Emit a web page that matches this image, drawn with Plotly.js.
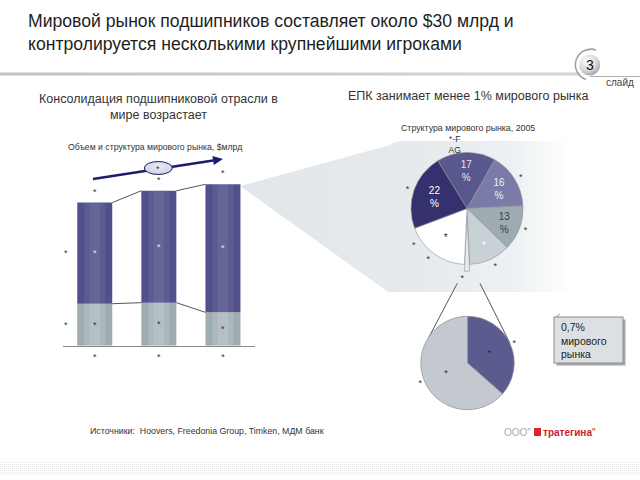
<!DOCTYPE html>
<html><head><meta charset="utf-8">
<script src="https://cdn.plot.ly/plotly-3.0.1.min.js"></script>
<style>html,body{margin:0;padding:0;background:#fff}#chart{width:640px;height:480px}</style>
</head><body><div id="chart"></div>
<script>
// ---------------- data ----------------
const barCategories = [0, 1, 2];
const barCategoryLabels = ['*', '*', '*'];
const otherShare = [7.8, 8.0, 6.2];       // lower (grey) segment, $ bn
const leaderShare = [18.8, 20.8, 23.8];   // upper (dark) segment, $ bn
const barTotalLabels = ['*', '*', '*'];
const lowerLabels = ['*', '*', '*'];
const upperLabels = ['*', '*', '*'];
const seriesLabels = ['*', '*'];          // lower, upper
const growthLabel = '*';

const pieLabels = ['FAG', 'Компания 2', 'Компания 3', 'Компания 4', 'ЕПК', 'Прочие', 'Компания 1'];
const pieValues = [17, 16, 13, 12, 1.5, 18.5, 22];
const pieInsideText = ['17<br>%', '16<br>%', '13<br>%', '*', '', '*', '22<br>%'];
const pieOutsideText = ['', '*', '*', '*', '*', '*', '*'];
const pieTopText = ['*-F<br>AG', '', '', '', '', '', ''];

const epkLabels = ['Сегмент 1', 'Сегмент 2'];
const epkValues = [36.5, 63.5];
const epkInsideText = ['*', '*'];
const epkOutsideText = ['*', '*'];

// ---------------- helpers ----------------
const W = 640, H = 480;
const px = x => x / W;
const py = y => 1 - y / H;
const barWidth = 0.546;
const totals = otherShare.map((v, i) => v + leaderShare[i]);
const FONT = 'Liberation Sans, Arial, sans-serif';

// ---------------- decorative background (svg image) ----------------
const svg = `<svg xmlns='http://www.w3.org/2000/svg' width='640' height='480' viewBox='0 0 640 480'>
<defs>
<linearGradient id='g1' x1='0' y1='0' x2='1' y2='0'>
<stop offset='0' stop-color='#e1e6e9'/><stop offset='0.55' stop-color='#e6eaed'/><stop offset='0.85' stop-color='#eef1f3'/><stop offset='1' stop-color='#fcfdfd'/>
</linearGradient>
<linearGradient id='rule' x1='0' y1='0' x2='1' y2='0'><stop offset='0' stop-color='#c2c2c2'/><stop offset='1' stop-color='#d6d6d6'/></linearGradient>
<radialGradient id='ball' cx='0.38' cy='0.32' r='0.75'><stop offset='0' stop-color='#ffffff'/><stop offset='0.6' stop-color='#d8d8d8'/><stop offset='1' stop-color='#9c9c9c'/></radialGradient>
<radialGradient id='ell' cx='0.5' cy='0.4' r='0.7'><stop offset='0' stop-color='#eceef5'/><stop offset='1' stop-color='#c5c9da'/></radialGradient>
<pattern id='dots' width='2' height='2' patternUnits='userSpaceOnUse'><rect width='1' height='1' fill='#e4e4e4'/></pattern>
</defs>
<rect x='0' y='462' width='640' height='14' fill='url(#dots)' opacity='0.8'/>
<path d='M240,186 L390,145 Q395,141 404,141 L565,141 L565,292 L388,292 Z' fill='url(#g1)'/>
<rect x='0' y='72.5' width='580' height='3' fill='url(#rule)'/>
<line x1='590' y1='76.5' x2='640' y2='76.5' stroke='#b0b0b0' stroke-width='1'/>
<path d='M 596 50 A 15.5 15.5 0 1 0 586 79.5' fill='none' stroke='#a0a0a0' stroke-width='1.5'/>
<circle cx='589.7' cy='65' r='10.5' fill='url(#ball)'/>
<line x1='457.3' y1='283.3' x2='428.3' y2='338.3' stroke='#555' stroke-width='1'/>
<line x1='480' y1='283.3' x2='510' y2='343.3' stroke='#555' stroke-width='1'/>
<line x1='93' y1='179' x2='213.1' y2='160.5' stroke='#1c1c6e' stroke-width='2.6'/>
<path d='M223,159 L213.8,164.9 L212.4,156.1 Z' fill='#1c1c6e'/>
<ellipse cx='158.3' cy='168' rx='14' ry='6.5' fill='url(#ell)' stroke='#1c1c6e' stroke-width='1'/>
<rect x='556.5' y='319.5' width='69' height='46' fill='#a8a8a8'/>
<rect x='554' y='317' width='69' height='46' fill='#dde0e3' stroke='#8c8c8c' stroke-width='1'/>
<path d='M560,314 L556,317' stroke='#999' stroke-width='1'/>
<rect x='534' y='428' width='7' height='8' fill='#d8262e'/>
</svg>`;
const svgSrc = 'data:image/svg+xml;charset=utf-8,' + encodeURIComponent(svg);

// ---------------- traces ----------------
const traces = [];
traces.push({type: 'bar', x: barCategories, y: otherShare, width: barWidth,
  marker: {color: '#9dadb2', line: {width: 0}}, hoverinfo: 'skip', showlegend: false});
traces.push({type: 'bar', x: barCategories, y: leaderShare, base: otherShare, width: barWidth,
  marker: {color: '#50508a', line: {width: 0}}, hoverinfo: 'skip', showlegend: false});
// cylinder highlights
traces.push({type: 'bar', x: barCategories, y: otherShare, width: barWidth * 0.6,
  marker: {color: 'rgba(255,255,255,0.14)', line: {width: 0}}, hoverinfo: 'skip', showlegend: false});
traces.push({type: 'bar', x: barCategories, y: otherShare, width: barWidth * 0.3,
  marker: {color: 'rgba(255,255,255,0.12)', line: {width: 0}}, hoverinfo: 'skip', showlegend: false});
traces.push({type: 'bar', x: barCategories, y: leaderShare, base: otherShare, width: barWidth * 0.6,
  marker: {color: 'rgba(255,255,255,0.07)', line: {width: 0}}, hoverinfo: 'skip', showlegend: false});
traces.push({type: 'bar', x: barCategories, y: leaderShare, base: otherShare, width: barWidth * 0.3,
  marker: {color: 'rgba(255,255,255,0.06)', line: {width: 0}}, hoverinfo: 'skip', showlegend: false});

// connectors between bars
const cx = [], cyTop = [], cyLow = [];
for (let i = 0; i < barCategories.length - 1; i++) {
  cx.push(barCategories[i] + barWidth / 2, barCategories[i + 1] - barWidth / 2, null);
  cyTop.push(totals[i], totals[i + 1], null);
  cyLow.push(otherShare[i], otherShare[i + 1], null);
}
traces.push({type: 'scatter', mode: 'lines', x: cx, y: cyTop, line: {color: '#555', width: 1}, hoverinfo: 'skip', showlegend: false});
traces.push({type: 'scatter', mode: 'lines', x: cx, y: cyLow, line: {color: '#555', width: 1}, hoverinfo: 'skip', showlegend: false});

// pie 1
const pie1C = [467, 208.5];
function pieDomain(c, r, pull) {
  const side = 2 * r * (1 + pull);
  return {x: [px(c[0] - side / 2), px(c[0] + side / 2)], y: [py(c[1] + side / 2), py(c[1] - side / 2)]};
}
const pie1Domain = pieDomain(pie1C, 56, 0.12);
const pieColors = ['#58588c', '#7b7ba7', '#9eacb1', '#c8d1d5', '#e8ebec', '#ffffff', '#35316e'];
const piePull = pieValues.map((v, i) => pieLabels[i] === 'ЕПК' ? 0.12 : 0);
const clear = pieValues.map(() => 'rgba(0,0,0,0)');
traces.push({type: 'pie', labels: pieLabels, values: pieValues, sort: false, direction: 'clockwise',
  rotation: -31.5, domain: pie1Domain, pull: piePull,
  marker: {colors: pieColors, line: {color: '#8d939a', width: 0.6}},
  text: pieInsideText, textinfo: 'text', textposition: 'inside', insidetextorientation: 'horizontal',
  insidetextfont: {size: 10, family: FONT, color: ['#e4e4f2', '#eeeef8', '#3c3c4c', '#ffffff', '#333', '#333', '#ffffff']},
  hoverinfo: 'skip', showlegend: false});
traces.push({type: 'pie', labels: pieLabels, values: pieValues, sort: false, direction: 'clockwise',
  rotation: -31.5, domain: pieDomain(pie1C, 58, 0.12), pull: piePull,
  marker: {colors: clear, line: {width: 0}},
  text: pieOutsideText, textinfo: 'text', textposition: 'outside',
  outsidetextfont: {size: 9, family: FONT, color: '#333'},
  hoverinfo: 'skip', showlegend: false});
traces.push({type: 'pie', labels: pieLabels, values: pieValues, sort: false, direction: 'clockwise',
  rotation: -31.5, domain: pieDomain(pie1C, 53.5, 0.12), pull: piePull,
  marker: {colors: clear, line: {width: 0}},
  text: pieTopText, textinfo: 'text', textposition: 'outside',
  outsidetextfont: {size: 8.5, family: FONT, color: '#333'},
  hoverinfo: 'skip', showlegend: false});

// pie 2
const pie2C = [467.5, 363];
const pie2Domain = pieDomain(pie2C, 46.7, 0);
traces.push({type: 'pie', labels: epkLabels, values: epkValues, sort: false, direction: 'clockwise',
  rotation: 0, domain: pie2Domain,
  marker: {colors: ['#5b5b8f', '#c3c9ce'], line: {color: '#8a8f96', width: 0.7}},
  text: epkInsideText, textinfo: 'text', textposition: 'inside',
  insidetextfont: {size: 9, family: FONT, color: '#222'},
  hoverinfo: 'skip', showlegend: false});
traces.push({type: 'pie', labels: epkLabels, values: epkValues, sort: false, direction: 'clockwise',
  rotation: 0, domain: pie2Domain,
  marker: {colors: ['rgba(0,0,0,0)', 'rgba(0,0,0,0)'], line: {width: 0}},
  text: epkOutsideText, textinfo: 'text', textposition: 'outside',
  outsidetextfont: {size: 9, family: FONT, color: '#333'},
  hoverinfo: 'skip', showlegend: false});

// ---------------- annotations ----------------
const ann = [];
function paperText(text, x, y, size, opts) {
  ann.push(Object.assign({xref: 'paper', yref: 'paper', x: px(x), y: py(y), text: text, showarrow: false,
    font: {size: size, family: FONT, color: '#222'}, xanchor: 'center', yanchor: 'middle'}, opts || {}));
}
paperText('Мировой рынок подшипников составляет около $30 млрд и<br>контролируется несколькими крупнейшими игроками',
  26, 32.5, 17.6, {xanchor: 'left', align: 'left', font: {size: 17.6, family: FONT, color: '#1e1e1e'}});
paperText('Консолидация подшипниковой отрасли в<br>мире возрастает', 158.5, 107, 12.5,
  {font: {size: 12.5, family: FONT, color: '#333'}});
paperText('ЕПК занимает менее 1% мирового рынка', 468, 96, 12.5, {font: {size: 12.5, family: FONT, color: '#333'}});
paperText('Объем и структура мирового рынка, $млрд', 155, 146.5, 8.7, {font: {size: 8.7, family: FONT, color: '#333'}});
paperText('Структура мирового рынка, 2005', 468, 127.5, 8.8, {font: {size: 8.8, family: FONT, color: '#333'}});
paperText('Источники:  Hoovers, Freedonia Group, Timken, МДМ банк', 88, 431, 8.8,
  {xanchor: 'left', font: {size: 8.8, family: FONT, color: '#333'}});
paperText('0,7%<br>мирового<br>рынка', 559, 340, 10.5, {xanchor: 'left', align: 'left',
  font: {size: 10.5, family: FONT, color: '#222'}});
paperText('3', 589.7, 65, 14, {font: {size: 14, family: FONT, color: '#111'}});
paperText('слайд', 620, 82, 10, {font: {size: 10, family: FONT, color: '#444'}});
paperText('ООО"', 533, 432, 10, {xanchor: 'right', font: {size: 10, family: FONT, color: '#aaaaaa'}});
paperText('<b>тратегина</b>"', 541, 432, 10, {xanchor: 'left', font: {size: 10, family: FONT, color: '#c8232c'}});
paperText(growthLabel, 158.3, 169, 9, {font: {size: 9, family: FONT, color: '#333'}});
paperText('*', 414, 245, 9, {font: {size: 9, family: FONT, color: '#333'}});

// bar labels
function dataText(text, x, y, color, yshift) {
  ann.push({xref: 'x', yref: 'y', x: x, y: y, text: text, showarrow: false, yshift: yshift || 0,
    font: {size: 9, family: FONT, color: color}, xanchor: 'center', yanchor: 'middle'});
}
barCategories.forEach((c, i) => {
  dataText(barTotalLabels[i], c, totals[i], '#333', 11);
  dataText(lowerLabels[i], c, otherShare[i] / 2, '#333', 0);
  dataText(upperLabels[i], c, otherShare[i] + leaderShare[i] / 2, '#e6e6f2', 0);
});
dataText(seriesLabels[0], -0.449, otherShare[0] / 2, '#333', 0);
dataText(seriesLabels[1], -0.449, otherShare[0] + leaderShare[0] / 2, '#333', 0);

// ---------------- layout ----------------
const layout = {
  width: W, height: H, margin: {l: 0, r: 0, t: 0, b: 0},
  paper_bgcolor: '#ffffff', plot_bgcolor: 'rgba(0,0,0,0)',
  font: {family: FONT, size: 10, color: '#333'},
  barmode: 'overlay', showlegend: false,
  xaxis: {domain: [px(62.7), px(255)], range: [-0.5, 2.5], tickvals: barCategories, ticktext: barCategoryLabels,
    showline: true, linecolor: '#8a8a8a', linewidth: 1, showgrid: false, zeroline: false, ticks: '',
    tickfont: {size: 9, color: '#333'}, ticklabelstandoff: 2, fixedrange: true},
  yaxis: {domain: [py(345.7), py(129.7)], range: [0, 216 / 5.38], visible: false, fixedrange: true},
  images: [{source: svgSrc, xref: 'paper', yref: 'paper', x: 0, y: 1, sizex: 1, sizey: 1,
    xanchor: 'left', yanchor: 'top', sizing: 'stretch', layer: 'below'}],
  annotations: ann
};

Plotly.newPlot('chart', traces, layout, {staticPlot: true, displayModeBar: false});
</script>
</body></html>
